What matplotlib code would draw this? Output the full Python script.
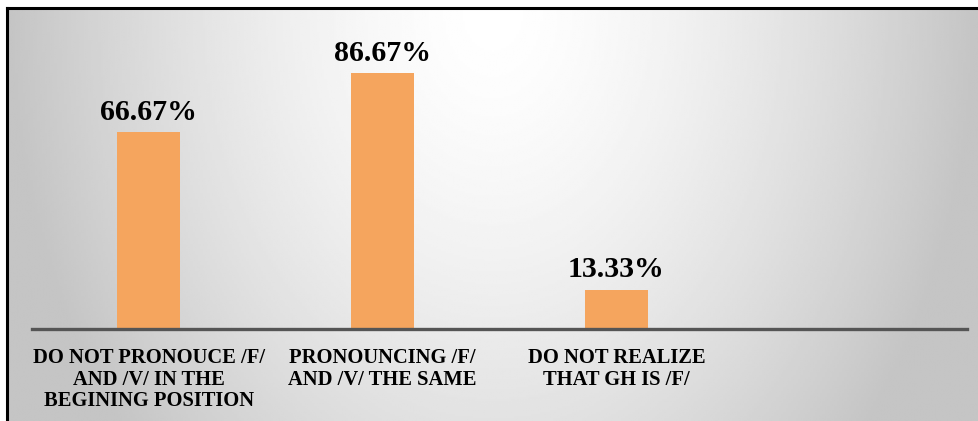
import numpy as np
import matplotlib
matplotlib.use('Agg')
import matplotlib.pyplot as plt

categories = ['DO NOT PRONOUCE /F/\nAND /V/ IN THE\nBEGINING POSITION',
              'PRONOUNCING /F/\nAND /V/ THE SAME',
              'DO NOT REALIZE\nTHAT GH IS /F/',
              '']
values = [66.67, 86.67, 13.33]

bar_color = '#F5A55E'
serif = ['Liberation Serif', 'DejaVu Serif']

W, H = 979, 421
fig = plt.figure(figsize=(W / 100, H / 100), dpi=100)
fig.patch.set_facecolor('white')

# grey-white gradient panel with black frame on the left and top
bg = fig.add_axes([7 / W, 0, 1 - 7 / W, (H - 8) / H])
u = np.linspace(0, 1, 400)
v = np.linspace(0, 1, 200)
uu, vv = np.meshgrid(u, v)
d = np.sqrt(((uu - 0.5) / 0.5) ** 2 + (vv / 1.6) ** 2)
shade = 1 - 0.23 * np.clip(d, 0, 1.0) ** 1.5
bg.imshow(shade, cmap='gray', vmin=0, vmax=1, aspect='auto',
          extent=[0, 1, 1, 0], interpolation='bilinear')
bg.set_xlim(0, 1)
bg.set_ylim(1, 0)
bg.set_xticks([])
bg.set_yticks([])
for s in ['right', 'bottom']:
    bg.spines[s].set_visible(False)
for s in ['left', 'top']:
    bg.spines[s].set_linewidth(2.2)
    bg.spines[s].set_color('black')

ax = fig.add_axes([32 / W, (H - 329) / H, 935 / W, 295 / H])
ax.patch.set_alpha(0)
x = np.arange(len(values))
ax.bar(x, values, width=0.27, color=bar_color, zorder=3)

for xi, val in zip(x, values):
    ax.annotate('{:.2f}%'.format(val), (xi, val), xytext=(0, 9),
                textcoords='offset points', ha='center', va='baseline',
                fontsize=21.5, fontweight='bold', family=serif)

ax.set_xlim(-0.5, len(categories) - 0.5)
ax.set_ylim(0, 100)
ax.set_xticks(range(len(categories)))
ax.set_xticklabels(categories, fontsize=14.8, fontweight='bold',
                   family=serif, linespacing=1.08)
ax.tick_params(axis='x', length=0, pad=14)
ax.set_yticks([])
for s in ['left', 'right', 'top']:
    ax.spines[s].set_visible(False)
ax.spines['bottom'].set_color('#555555')
ax.spines['bottom'].set_linewidth(2.4)
ax.spines['bottom'].set_zorder(4)

fig.savefig('out.png', dpi=100)
